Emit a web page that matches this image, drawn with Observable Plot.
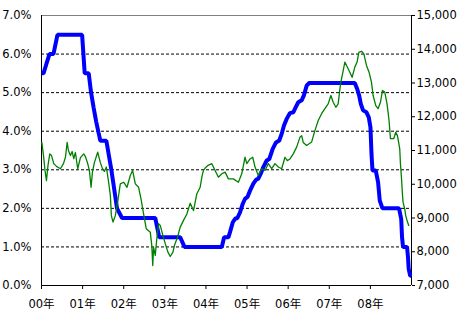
<!DOCTYPE html>
<html>
<head>
<meta charset="utf-8">
<script src="https://cdn.jsdelivr.net/npm/d3@7"></script>
<script src="https://cdn.jsdelivr.net/npm/@observablehq/plot@0.6"></script>
<style>
  html, body { margin: 0; padding: 0; background: #fff; }
  #chart svg { display: block; }
</style>
</head>
<body>
<div id="chart"></div>
<script>
// Policy rate (%), left axis: decimal year, value
const rateYears = [2000.000,2000.049,2000.121,2000.194,2000.291,2000.388,2000.988,2001.051,2001.148,2001.206,2001.270,2001.330,2001.390,2001.432,2001.578,2001.699,2001.837,2001.959,2002.767,2002.864,2003.374,2003.478,2004.386,2004.442,2004.546,2004.587,2004.653,2004.709,2004.765,2004.830,2004.896,2004.951,2005.007,2005.073,2005.153,2005.218,2005.274,2005.333,2005.396,2005.478,2005.541,2005.624,2005.704,2005.784,2005.842,2005.898,2005.964,2006.044,2006.124,2006.182,2006.245,2006.328,2006.383,2006.449,2006.512,2007.621,2007.677,2007.726,2007.767,2007.823,2007.905,2007.961,2008.002,2008.027,2008.051,2008.131,2008.187,2008.228,2008.294,2008.697,2008.750,2008.770,2008.794,2008.891,2008.915,2008.932,2008.968,2008.995];
const rateValues = [5.50,5.50,5.75,6.00,6.00,6.50,6.50,5.50,5.50,5.00,4.60,4.25,3.95,3.75,3.75,3.00,2.00,1.75,1.75,1.25,1.25,1.00,1.00,1.25,1.25,1.39,1.64,1.73,1.75,1.90,2.12,2.25,2.29,2.46,2.64,2.74,2.77,2.90,3.07,3.24,3.28,3.54,3.71,3.76,3.93,4.15,4.32,4.47,4.49,4.62,4.75,4.80,4.93,5.18,5.25,5.25,5.10,4.93,4.71,4.54,4.49,4.36,4.10,3.41,2.98,2.98,2.68,2.20,2.00,2.00,1.72,1.25,1.00,1.00,0.73,0.43,0.25,0.25];

// Stock index, right axis: decimal year, value
const indexYears = [2000.007,2000.049,2000.085,2000.121,2000.158,2000.201,2000.243,2000.299,2000.364,2000.461,2000.534,2000.583,2000.624,2000.655,2000.704,2000.745,2000.784,2000.825,2000.881,2000.947,2001.027,2001.068,2001.124,2001.165,2001.206,2001.238,2001.286,2001.367,2001.432,2001.481,2001.529,2001.578,2001.633,2001.675,2001.699,2001.740,2001.796,2001.852,2001.917,2001.998,2002.080,2002.160,2002.216,2002.282,2002.362,2002.420,2002.483,2002.549,2002.646,2002.682,2002.706,2002.726,2002.767,2002.808,2002.847,2002.888,2002.954,2003.010,2003.075,2003.131,2003.197,2003.235,2003.308,2003.374,2003.454,2003.536,2003.617,2003.697,2003.779,2003.859,2003.900,2003.939,2003.981,2004.053,2004.143,2004.223,2004.303,2004.386,2004.466,2004.546,2004.667,2004.789,2004.871,2004.951,2004.993,2005.073,2005.138,2005.194,2005.274,2005.357,2005.437,2005.517,2005.600,2005.680,2005.760,2005.842,2005.922,2005.978,2006.044,2006.124,2006.206,2006.286,2006.328,2006.367,2006.449,2006.570,2006.650,2006.731,2006.813,2006.893,2006.973,2007.039,2007.095,2007.160,2007.216,2007.274,2007.323,2007.379,2007.420,2007.500,2007.556,2007.621,2007.677,2007.718,2007.784,2007.840,2007.905,2007.968,2008.027,2008.066,2008.131,2008.187,2008.245,2008.294,2008.350,2008.405,2008.454,2008.488,2008.568,2008.617,2008.658,2008.714,2008.731,2008.755,2008.779,2008.794,2008.835,2008.859,2008.891,2008.932];
const indexValues = [11250,10850,10410,10110,10560,10900,10850,10610,10530,10460,10610,10800,11240,11000,10850,10970,10760,10940,10460,10790,10900,10820,10610,10410,9910,10350,10640,10950,10640,10470,10380,10510,10060,9670,9070,8880,9070,9470,10010,10060,9910,10260,10410,10010,9910,9570,9120,8680,8580,8190,7590,8130,7890,8430,8830,8780,8480,8240,7990,7860,7990,8190,8430,8730,8930,9120,9440,9220,9720,9910,10210,10410,10480,10560,10610,10410,10210,10310,10360,10160,10160,10060,10310,10800,10610,10750,10800,10510,10260,10460,10410,10610,10460,10610,10510,10460,10800,10700,10750,10900,11100,11390,11440,11240,11150,11250,11590,11890,12090,12240,12380,12630,12430,12280,12380,12980,13270,13620,13520,13320,13170,13470,13620,13910,13940,13870,13520,13320,13020,12630,12330,12240,12430,12780,12730,12380,11890,11350,11350,11540,11440,11050,10610,10210,9720,9470,9270,9070,8930,8780];

// Axis ticks
const yearTicks = [2000,2001,2002,2003,2004,2005,2006,2007,2008];
const yearLabels = ["00年","01年","02年","03年","04年","05年","06年","07年","08年"];
const rateTicks = [0,1,2,3,4,5,6,7];
const gridTicks = [1,2,3,4,5,6];
const indexTicks = [7000,8000,9000,10000,11000,12000,13000,14000,15000];

const rate = rateYears.map((t, i) => ({t, v: rateValues[i]}));
const index = indexYears.map((t, i) => ({t, v: indexValues[i]}));

// map right-axis values onto the left (0-7) scale
const idxMin = 7000, idxMax = 15000, rMax = 7;
const toLeft = v => (v - idxMin) / (idxMax - idxMin) * rMax;

const font = "'DejaVu Sans', 'Noto Sans CJK JP', sans-serif";

const chart = Plot.plot({
  width: 468,
  height: 319,
  marginLeft: 41,
  marginRight: 57,
  marginTop: 15,
  marginBottom: 34,
  style: {fontFamily: font, fontSize: "11.5px", background: "#fff", color: "#000"},
  x: {type: "linear", domain: [2000, 2009]},
  y: {domain: [0, 7]},
  marks: [
    Plot.gridY(gridTicks, {stroke: "#000", strokeOpacity: 1, strokeDasharray: "3,2"}),
    Plot.ruleY([7], {stroke: "#808080"}),
    Plot.ruleY([0], {stroke: "#000"}),
    Plot.ruleX([2000], {stroke: "#000"}),
    Plot.ruleX([2009], {stroke: "#000"}),
    Plot.axisY(rateTicks, {anchor: "left", tickSize: 0, tickPadding: 10, tickFormat: d => d.toFixed(1) + "%", label: null}),
    Plot.axisY(indexTicks, {anchor: "right", y: toLeft, tickSize: 3, tickPadding: 2, tickFormat: d => d3.format(",")(d), label: null}),
    Plot.axisX(yearTicks, {anchor: "bottom", tickSize: 4, tickPadding: 10, tickFormat: (d) => yearLabels[yearTicks.indexOf(d)], label: null}),
    Plot.line(rate, {x: "t", y: "v", stroke: "#0000ff", strokeWidth: 4, strokeLinejoin: "miter", strokeLinecap: "butt"}),
    Plot.line(index, {x: "t", y: d => toLeft(d.v), stroke: "#008000", strokeWidth: 1.3})
  ]
});
document.getElementById("chart").appendChild(chart);
</script>
</body>
</html>
